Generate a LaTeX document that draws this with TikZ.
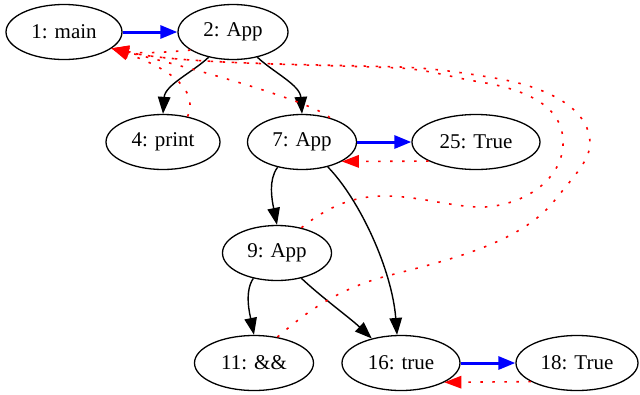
\documentclass[tikz,border=0pt]{standalone}
\usepackage{fontspec}
\setmainfont{Liberation Serif}
\usetikzlibrary{shapes.geometric,arrows.meta}
\begin{document}
\begin{tikzpicture}[x=1pt,y=-1pt,
  nd/.style={ellipse,draw,line width=1.3pt,inner sep=0pt,minimum height=55pt,font=\fontsize{21}{25}\selectfont},
  tree/.style={line width=1.4pt,-{Triangle[length=17pt,width=12.5pt]}},
  seq/.style={line width=3pt,blue,-{Triangle[length=17pt,width=13pt]}},
  back/.style={line width=1.6pt,red,dash pattern=on 2.5pt off 9.5pt,-{Triangle[length=17pt,width=12.5pt]}}]
\useasboundingbox (0,0) rectangle (640,394);
\node[nd,minimum width=116pt] (n1) at (64,32) {1: main};
\node[nd,minimum width=110pt] (n2) at (233,32) {2: App};
\node[nd,minimum width=114pt] (n4) at (163,142) {4: print};
\node[nd,minimum width=109pt] (n7) at (302,142) {7: App};
\node[nd,minimum width=128pt] (n25) at (476,142) {25: True};
\node[nd,minimum width=109pt] (n9) at (277,253) {9: App};
\node[nd,minimum width=119pt] (n11) at (254,363) {11: \&\&};
\node[nd,minimum width=118pt] (n16) at (401,363) {16: true};
\node[nd,minimum width=122pt] (n18) at (577,363) {18: True};
% tree edges
\draw[tree] (n2.226) .. controls (193,72) and (165,85) .. (n4.north);
\draw[tree] (n2.314) .. controls (273,72) and (300,85) .. (n7.north);
\draw[tree] (n7.226) .. controls (268,180) and (272,200) .. (n9.north);
\draw[tree] (n7.316) .. controls (360,200) and (392,270) .. (n16.98);
\draw[tree] (n9.227) .. controls (244,292) and (250,315) .. (n11.north);
\draw[tree] (n9.314) .. controls (320,296) and (350,318) .. (n16.140);
% sequence edges
\draw[seq] (n1.east) -- (n2.west);
\draw[seq] (n7.east) -- (n25.west);
\draw[seq] (n16.east) -- (n18.west);
% back edges
\draw[back] (n25.202) -- (n7.334);
\draw[back] (n18.202) -- (n16.336);
\draw[back] (n2.203) .. controls (170,52) and (140,54) .. (n1.341);
\draw[back] (n4.46) .. controls (197,95) and (180,72) .. (n1.341);
\draw[back] (n7.41) .. controls (315,104) and (220,75) .. (n1.341);
\draw[back] (n9.46) .. controls (330,205) and (355,196) .. (385,196)
  .. controls (420,196) and (455,208) .. (485,207)
  .. controls (530,204) and (565,175) .. (563,140)
  .. controls (562,108) and (530,90) .. (480,82)
  .. controls (450,77) and (430,70) .. (400,68)
  .. controls (300,64) and (180,64) .. (n1.341);
\draw[back] (n11.48) .. controls (300,318) and (330,292) .. (383,277)
  .. controls (440,262) and (520,245) .. (555,200)
  .. controls (575,175) and (590,160) .. (590,143)
  .. controls (590,115) and (560,90) .. (500,79)
  .. controls (460,72) and (430,68) .. (400,67)
  .. controls (300,64) and (180,64) .. (n1.341);
\end{tikzpicture}
\end{document}
